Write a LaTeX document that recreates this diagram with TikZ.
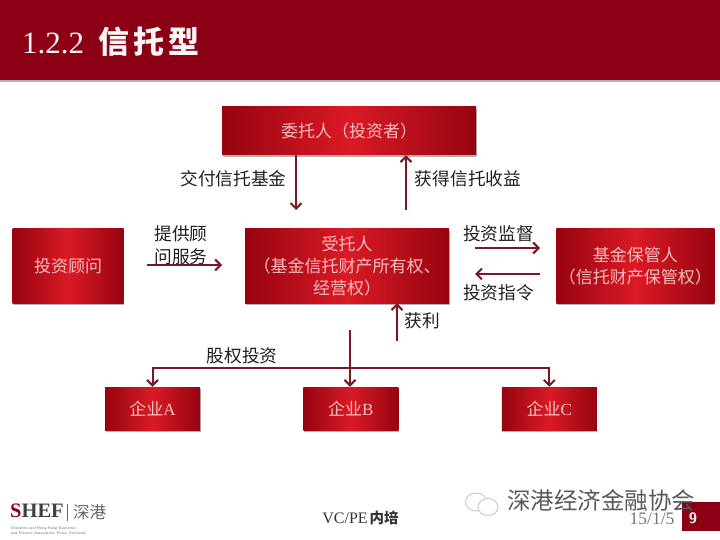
\documentclass[tikz,border=0pt]{standalone}
\usepackage{fontspec}
\usepackage{xcolor}
\usepackage{tikz}
\usetikzlibrary{positioning, arrows.meta, shadows, shapes.geometric}
\setmainfont{Liberation Serif}
\newfontfamily\cjk{Noto Sans CJK SC}
\definecolor{barred}{RGB}{139,0,20}
\definecolor{boxdark}{RGB}{150,4,16}
\definecolor{boxlight}{RGB}{218,26,38}
\definecolor{boxtext}{RGB}{248,190,190}
\definecolor{flowred}{RGB}{122,24,38}
\definecolor{tagtext}{RGB}{35,30,30}
\tikzset{
  box/.style={
    rectangle, inner sep=0pt, align=center, text=boxtext,
    left color=boxdark, right color=boxdark, middle color=boxlight,
    font=\cjk\fontsize{17}{22}\selectfont,
    drop shadow={shadow xshift=0.5pt, shadow yshift=-2pt, opacity=0.3, fill=black}
  },
  bigbox/.style={box, minimum height=74pt},
  firm/.style={box, minimum width=95pt, minimum height=43pt},
  flow/.style={draw=flowred, line width=2pt, -{Straight Barb[length=5.5pt, width=11pt, line width=2pt]}},
  tag/.style={text=tagtext, inner sep=0pt, align=center, font=\cjk\fontsize{17.7}{23}\selectfont},
  foot/.style={inner sep=0pt, text=black!70},
}
\begin{document}
\begin{tikzpicture}[x=1pt, y=-1pt, node distance=103pt]
  \useasboundingbox (0,0) rectangle (720,540);
  % title bar
  \node[rectangle, fill=barred, minimum width=720pt, minimum height=80pt, inner sep=0pt,
        drop shadow={shadow xshift=0pt, shadow yshift=-2pt, opacity=0.3, fill=black}] (titleBar) at (360,40) {};
  \node[anchor=west, inner sep=0pt, text=white!85!pink, font=\fontsize{31}{36}\selectfont] (titleText) at (22,42)
    {1.2.2\hspace{14pt}{\cjk\bfseries\addfontfeature{LetterSpace=13}信托型}};

  % boxes
  \node[box, minimum width=254pt, minimum height=48pt] (trustor) at (349,131) {委托人（投资者）};
  \node[bigbox, minimum width=204pt] (trustee) at (347,266) {受托人\\（基金信托财产所有权、\\经营权）};
  \node[bigbox, minimum width=111pt, left=121pt of trustee] (advisor) {投资顾问};
  \node[bigbox, minimum width=158pt, right=107pt of trustee] (keeper) {基金保管人\\（信托财产保管权）};
  \node[firm] (firmA) at (152.5,408.5) {企业{\rmfamily A}};
  \node[firm, right=of firmA] (firmB) {企业{\rmfamily B}};
  \node[firm, right=of firmB] (firmC) {企业{\rmfamily C}};

  % free ends
  \coordinate (payEnd) at (296,210);
  \coordinate (gainStart) at (406,210);
  \coordinate (serviceStart) at (147,265);
  \coordinate (serviceEnd) at (222,265);
  \coordinate (monitorStart) at (475,248);
  \coordinate (monitorEnd) at (540,248);
  \coordinate (orderStart) at (540,274);
  \coordinate (orderEnd) at (475,274);
  \coordinate (profitStart) at (397,341);
  \coordinate (stemTop) at (350,330);
  \coordinate (stemMid) at (350,368);

  % connectors
  \draw[flow] (trustor.south -| payEnd) -- (payEnd);
  \draw[flow] (gainStart) -- (trustor.south -| gainStart);
  \draw[flow] (serviceStart) -- (serviceEnd);
  \draw[flow] (monitorStart) -- (monitorEnd);
  \draw[flow] (orderStart) -- (orderEnd);
  \draw[flow] (profitStart) -- (trustee.south -| profitStart);
  \draw[flow] (stemTop) -- (firmB.north -| stemTop);
  \draw[flow] (stemMid) -| (firmA.north);
  \draw[flow] (stemMid) -| (firmC.north);

  % labels
  \node[tag] (payTag) at (233.5,179) {交付信托基金};
  \node[tag] (gainTag) at (468,179) {获得信托收益};
  \node[tag] (serviceTag) at (181,245) {提供顾\\问服务};
  \node[tag] (monitorTag) at (498.5,234) {投资监督};
  \node[tag] (orderTag) at (498.5,293) {投资指令};
  \node[tag] (profitTag) at (422.5,321) {获利};
  \node[tag] (equityTag) at (242,356) {股权投资};

  % footer
  \node[anchor=west, inner sep=0pt, text=black!75, font=\bfseries\fontsize{20.5}{21}\selectfont] (logoMark) at (10,511)
    {\textcolor{barred}{S}HEF};
  \node[anchor=west, inner sep=0pt, text=black!60, font=\cjk\fontsize{16.5}{18}\selectfont] (logoCity) at (73,512) {深港};
  \coordinate (logoBarTop) at (67,504);
  \coordinate (logoBarEnd) at (67,521);
  \draw[black!60, line width=0.7pt] (logoBarTop) -- (logoBarEnd);
  \node[anchor=north west, inner sep=0pt, text=black!55, align=left, font=\sffamily\fontsize{4}{5}\selectfont] (logoText) at (11,526)
    {Shenzhen and Hong Kong Economic\\and Finance Association, Policy University};
  \node[foot, text=black!80, font=\fontsize{16}{18}\selectfont] (course) at (360.5,518)
    {VC/PE\hspace{2pt}{\cjk\bfseries\fontsize{14.5}{18}\selectfont 内培}};
  \node[rectangle, fill=barred, minimum width=38pt, minimum height=29pt, inner sep=0pt] (pageBox) at (701,516.5) {};
  \node[text=white!85!pink, inner sep=0pt, font=\sffamily\bfseries\fontsize{15}{15}\selectfont] (pageNum) at (693,518) {9};
  \node[foot, text=black!55, font=\fontsize{17.5}{18}\selectfont] (dateTag) at (652,519) {15/1/5};

  % wechat mark
  \node[ellipse, draw=black!20, fill=white, line width=1pt, minimum width=21pt, minimum height=18pt, inner sep=0pt] (chatBack) at (476,502) {};
  \node[ellipse, draw=black!20, fill=white, line width=1pt, minimum width=20pt, minimum height=17pt, inner sep=0pt] (chatFront) at (488,507) {};
  \node[inner sep=0pt, text=black!65, font=\cjk\fontsize{23.5}{25}\selectfont] (wechatName) at (601,500) {深港经济金融协会};
\end{tikzpicture}
\end{document}
